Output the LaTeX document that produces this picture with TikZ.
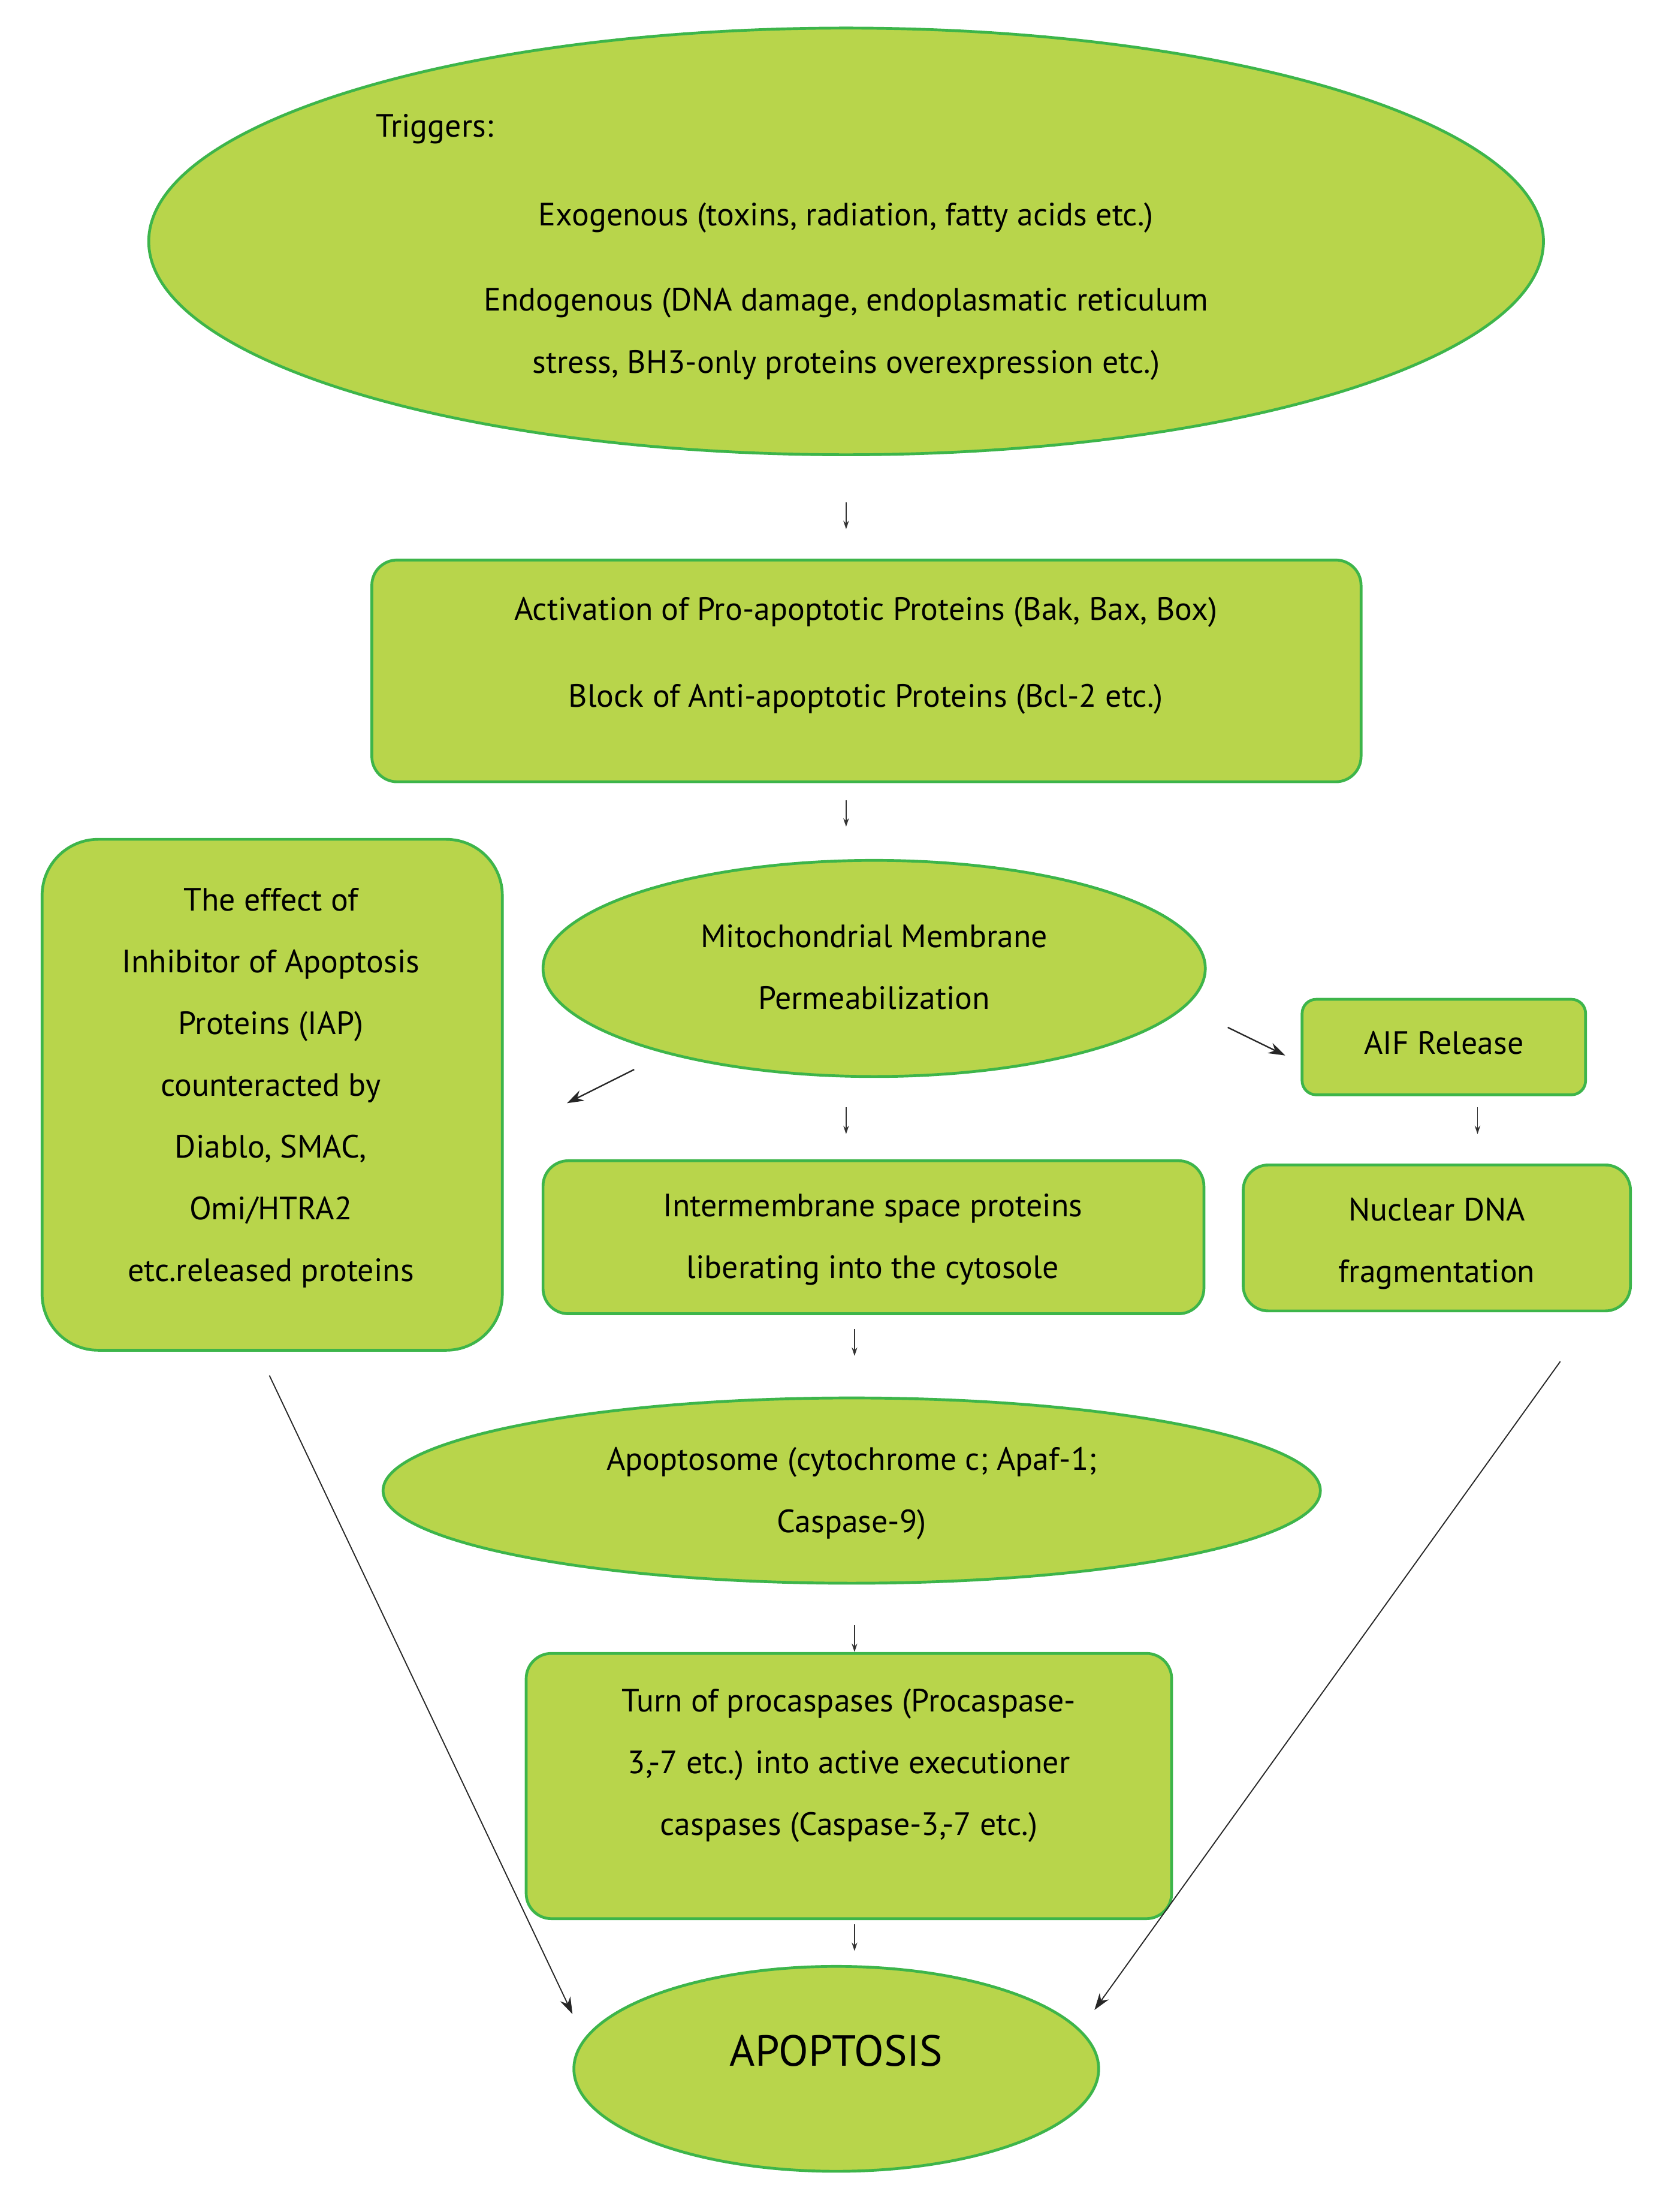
\documentclass[tikz,border=0pt]{standalone}
\usepackage{fontspec}
\setmainfont{PT Sans}
\usetikzlibrary{shapes.geometric,arrows.meta}
\definecolor{fillg}{HTML}{B8D54B}
\definecolor{lineg}{HTML}{3DB54A}
\begin{document}
\begin{tikzpicture}[x=1pt,y=-1pt,
  shp/.style={draw=lineg,line width=2pt,fill=fillg,inner sep=0pt},
  ell/.style={shp,ellipse},
  box/.style={shp,rectangle,rounded corners=18pt},
  txt/.style={font=\fontsize{23}{44}\selectfont,align=center,inner sep=0pt},
  sarr/.style={-{Stealth[length=6pt,width=4pt]},line width=0.8pt,black!80},
  larr/.style={-{Stealth[length=12pt,width=8pt]},line width=1pt,black!85}]
\useasboundingbox[fill=white] (0,0) rectangle (1185,1576);
% shapes
\node[ell,minimum width=994,minimum height=304] (trig) at (603,172) {};
\node[box,minimum width=705,minimum height=158] (act) at (617.5,478) {};
\node[box,rounded corners=40pt,minimum width=328,minimum height=364] (iap) at (194,780) {};
\node[ell,minimum width=472,minimum height=154] (mito) at (623,690) {};
\node[box,rounded corners=10pt,minimum width=202,minimum height=68] (aif) at (1029,746) {};
\node[box,minimum width=471,minimum height=109] (inter) at (622.5,881.5) {};
\node[box,minimum width=276,minimum height=104] (nuc) at (1024,882) {};
\node[ell,minimum width=668,minimum height=132] (apo) at (607,1062) {};
\node[box,minimum width=460,minimum height=189] (turn) at (605,1272.5) {};
\node[ell,minimum width=374,minimum height=146] (apop) at (596,1474) {};
% texts
\node[txt,anchor=west] (t0) at (268,92) {Triggers:};
\node[txt] (t1) at (603,155) {Exogenous (toxins, radiation, fatty acids etc.)};
\node[txt] (t2) at (603,238) {Endogenous (DNA damage, endoplasmatic reticulum\\stress, BH3-only proteins overexpression etc.)};
\node[txt,font=\fontsize{23}{62}\selectfont] (t3) at (617,467) {Activation of Pro-apoptotic Proteins (Bak, Bax, Box)\\Block of Anti-apoptotic Proteins (Bcl-2 etc.)};
\node[txt] (t4) at (193,775) {The effect of\\Inhibitor of Apoptosis\\Proteins (IAP)\\counteracted by\\Diablo, SMAC,\\Omi/HTRA2\\etc.released proteins};
\node[txt] (t5) at (623,689) {Mitochondrial Membrane\\Permeabilization};
\node[txt] (t6) at (1029,743) {AIF Release};
\node[txt] (t7) at (622,883) {Intermembrane space proteins\\liberating into the cytosole};
\node[txt] (t8) at (1024,886) {Nuclear DNA\\fragmentation};
\node[txt] (t9) at (607,1064) {Apoptosome (cytochrome c; Apaf-1;\\Caspase-9)};
\node[txt] (t10) at (605,1258) {Turn of procaspases (Procaspase-\\3,-7 etc.) into active executioner\\caspases (Caspase-3,-7 etc.)};
\node[txt,font=\fontsize{31}{40}\selectfont] (t11) at (596,1461) {APOPTOSIS};
% arrow endpoints
\coordinate (a1s) at (603,358); \coordinate (a1e) at (603,377);
\coordinate (a2s) at (603,570); \coordinate (a2e) at (603,589);
\coordinate (a3s) at (603,789); \coordinate (a3e) at (603,808);
\coordinate (a4s) at (1053,789); \coordinate (a4e) at (1053,808);
\coordinate (a5s) at (609,947); \coordinate (a5e) at (609,966);
\coordinate (a6s) at (609,1158); \coordinate (a6e) at (609,1177);
\coordinate (a7s) at (609,1371); \coordinate (a7e) at (609,1390);
\coordinate (d1s) at (452,762); \coordinate (d1e) at (404,786);
\coordinate (d2s) at (875,732); \coordinate (d2e) at (916,752);
\coordinate (l1s) at (192,980); \coordinate (l1e) at (408,1435);
\coordinate (l2s) at (1112,970); \coordinate (l2e) at (780,1432);
\foreach \a in {a1,a2,a3,a4,a5,a6,a7} \draw[sarr] (\a s) -- (\a e);
\draw[larr] (d1s) -- (d1e);
\draw[larr] (d2s) -- (d2e);
\draw[larr,line width=0.8pt] (l1s) -- (l1e);
\draw[larr,line width=0.8pt] (l2s) -- (l2e);
\end{tikzpicture}
\end{document}
